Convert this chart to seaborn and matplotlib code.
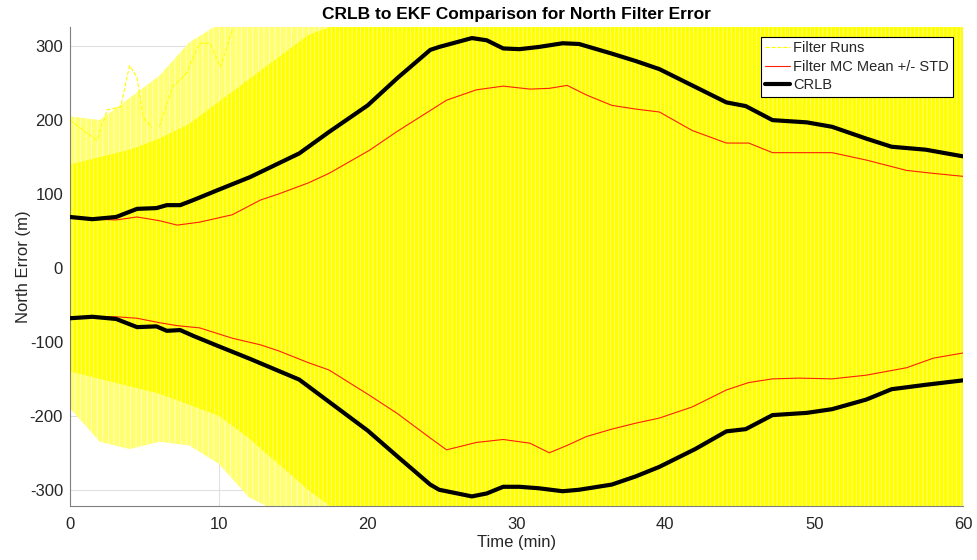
import numpy as np
import pandas as pd
import matplotlib
matplotlib.use("Agg")
import matplotlib.pyplot as plt
import seaborn as sns
from matplotlib.lines import Line2D

# ---------------- data ----------------
t_crlb = [0, 1.5, 3.1, 4.5, 5.8, 6.5, 7.4, 8.3, 10, 12.1, 15.4, 17.4, 20, 22, 24.2, 24.8,
          27, 28, 29.1, 30.2, 31.5, 33.1, 34.2, 36.4, 38, 39.6, 42, 44.1, 45.4, 47.2,
          49.5, 51.2, 53.5, 55.2, 57.5, 60]
crlb_upper = [69, 66, 69, 80, 81, 85, 85, 92, 106, 123, 155, 184, 220, 257, 295, 299,
              311, 308, 297, 296, 299, 304, 303, 290, 280, 269, 245, 224, 219, 200,
              197, 191, 175, 164, 160, 151]
crlb_lower = [-68, -66, -69, -80, -79, -85, -84, -92, -106, -123, -151, -181, -220, -255,
              -293, -300, -309, -305, -296, -296, -298, -302, -300, -293, -282, -269,
              -245, -221, -218, -199, -196, -191, -178, -164, -158, -152]

t_mc = [0, 1.5, 3.1, 4.5, 6, 7.2, 8.7, 10.9, 12.8, 14, 16, 17.4, 20.1, 22, 24.2, 25.3,
        27.3, 29.1, 30.9, 32.2, 33.4, 34.7, 36.4, 38, 39.6, 41.8, 44.1, 45.6, 47.2, 49,
        51.2, 53.5, 56.2, 58, 60]
mc_upper = [67, 66, 65, 69, 64, 58, 62, 72, 92, 100, 115, 128, 159, 185, 213, 227, 241,
            246, 242, 243, 247, 234, 220, 215, 211, 186, 169, 169, 156, 156, 156, 146,
            132, 128, 124]
mc_lower = [-66, -66, -66, -68, -74, -78, -81, -95, -104, -112, -128, -138, -172, -197,
            -230, -246, -236, -232, -237, -250, -240, -228, -218, -210, -203, -188, -165,
            -155, -150, -149, -150, -145, -135, -122, -115]

# envelope of the Monte Carlo filter runs
t_env = [0, 2, 4, 6, 8, 10, 12, 14, 16, 18, 20, 60]
runs_dense_upper = [140, 150, 160, 175, 195, 225, 255, 285, 315, 330, 330, 330]
runs_dense_lower = [-140, -150, -160, -170, -185, -200, -230, -265, -300, -330, -330, -330]
runs_sparse_upper = [205, 200, 230, 260, 305, 330, 330, 330, 330, 330, 330, 330]
runs_sparse_lower = [-190, -235, -245, -235, -240, -265, -310, -330, -330, -330, -330, -330]

# a few outlying runs visible in the upper left
t_out1 = [0, 0.9, 1.8, 2.5, 3.4, 4.0, 4.5, 4.9, 5.5]
v_out1 = [200, 186, 173, 214, 218, 274, 258, 204, 190]
t_out2 = [6.0, 6.9, 7.8, 8.7, 9.4, 10.1, 10.9]
v_out2 = [191, 245, 263, 304, 304, 272, 322]

x_ticks = [0, 10, 20, 30, 40, 50, 60]
y_ticks = [-300, -200, -100, 0, 100, 200, 300]

# ---------------- styling ----------------
sns.set_theme(style="white")
plt.rcParams["font.family"] = ["Liberation Sans", "DejaVu Sans"]
plt.rcParams["axes.unicode_minus"] = False
plt.rcParams["hatch.linewidth"] = 0.5

fig = plt.figure(figsize=(9.77, 5.6), dpi=100)
ax = fig.add_axes([0.0717, 0.0964, 0.9140, 0.8554])

yellow = "#FFFF00"
# sparse region of runs
ax.fill_between(t_env, runs_sparse_lower, runs_sparse_upper, facecolor="#FFFF70",
                edgecolor="#FFFFE0", hatch="|||", linewidth=0, zorder=1)
# dense region of runs
ax.fill_between(t_env, runs_dense_lower, runs_dense_upper, facecolor=yellow,
                edgecolor="#FFFFA8", hatch="||||", linewidth=0, zorder=1.2)

# outlying runs
sns.lineplot(x=t_out1, y=v_out1, ax=ax, color=yellow, lw=0.8, linestyle="--", zorder=1.5)
sns.lineplot(x=t_out2, y=v_out2, ax=ax, color=yellow, lw=0.8, linestyle="--", zorder=1.5)

# MC mean +/- STD
mc_df = pd.DataFrame({"t": t_mc, "up": mc_upper, "lo": mc_lower})
sns.lineplot(data=mc_df, x="t", y="up", ax=ax, color="#FF2000", lw=0.8, zorder=3)
sns.lineplot(data=mc_df, x="t", y="lo", ax=ax, color="#FF2000", lw=0.8, zorder=3)

# CRLB
cr_df = pd.DataFrame({"t": t_crlb, "up": crlb_upper, "lo": crlb_lower})
sns.lineplot(data=cr_df, x="t", y="up", ax=ax, color="black", lw=3, zorder=4,
             solid_joinstyle="round", solid_capstyle="round")
sns.lineplot(data=cr_df, x="t", y="lo", ax=ax, color="black", lw=3, zorder=4,
             solid_joinstyle="round", solid_capstyle="round")

ax.set_xlim(0, 60)
ax.set_ylim(-322, 326)
ax.set_xticks(x_ticks)
ax.set_yticks(y_ticks)
ax.grid(True, color="#E0E0E0", linewidth=0.8, zorder=0)
ax.set_axisbelow(True)
ax.tick_params(direction="in", length=5, width=0.8, colors="#262626",
               labelsize=12, labelcolor="#262626")
ax.tick_params(axis="y", pad=5)
ax.tick_params(axis="x", pad=8)
for s in ["top", "right"]:
    ax.spines[s].set_visible(False)
for s in ["left", "bottom"]:
    ax.spines[s].set_color("#808080")
    ax.spines[s].set_linewidth(0.8)

ax.set_xlabel("Time (min)", fontsize=12, color="#262626", labelpad=2)
ax.set_ylabel("North Error (m)", fontsize=12, color="#262626")
ax.yaxis.set_label_coords(-0.044, 0.5)
ax.set_title("CRLB to EKF Comparison for North Filter Error", fontsize=12.5,
             fontweight="bold", color="black", pad=6)

handles = [Line2D([], [], color=yellow, lw=0.8, linestyle="--"),
           Line2D([], [], color="#FF2000", lw=0.8),
           Line2D([], [], color="black", lw=3)]
labels = ["Filter Runs", "Filter MC Mean +/- STD", "CRLB"]
leg = ax.legend(handles, labels, loc="upper right", fontsize=10.5, frameon=True,
                fancybox=False, edgecolor="black", framealpha=1, handlelength=1.7,
                handletextpad=0.2, borderpad=0.3, borderaxespad=0, labelspacing=0.3,
                bbox_to_anchor=(0.989, 0.979))
leg.get_frame().set_linewidth(0.8)

fig.savefig("out.png", dpi=100)
